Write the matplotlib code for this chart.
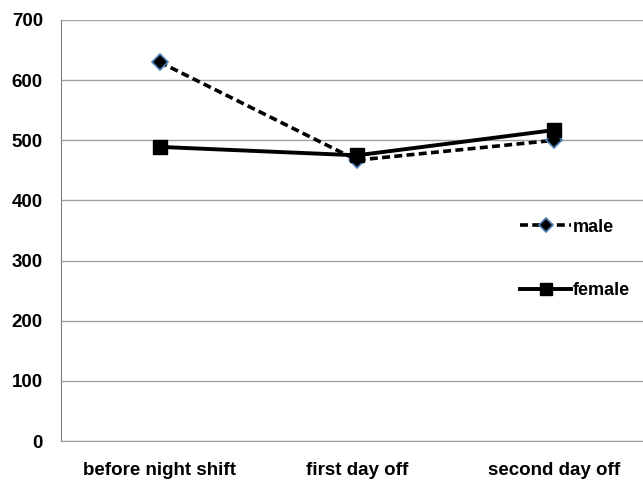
import matplotlib.pyplot as plt

# Datos
categorias = ["before night shift", "first day off", "second day off"]
male = [630, 467, 500]
female = [489, 475, 517]

plt.rcParams['font.family'] = ['Liberation Sans', 'DejaVu Sans']
plt.rcParams['font.weight'] = 'bold'

fig = plt.figure(figsize=(6.43, 4.83), dpi=100)
ax = fig.add_axes([61/643, 1 - 441/483, 592/643, 421/483])

x = range(len(categorias))
ax.plot(x, male, color='black', linestyle=(0, (2.2, 1.2)), linewidth=2.6,
        marker='D', markersize=8.5, markerfacecolor='black',
        markeredgecolor='#4f81bd', markeredgewidth=1.2, label='male', zorder=3)
ax.plot(x, female, color='black', linestyle='-', linewidth=2.8,
        marker='s', markersize=10.5, markerfacecolor='black',
        markeredgecolor='black', label='female', zorder=4)

ax.set_xlim(-0.5, 2.5)
ax.set_ylim(0, 700)
ax.set_yticks(range(0, 701, 100))
ax.set_xticks(list(x))
ax.set_xticklabels(categorias)
ax.grid(axis='y', color='#a0a0a0', linewidth=1)
ax.set_axisbelow(True)
ax.tick_params(axis='both', length=0, labelsize=13.5)
ax.tick_params(axis='y', pad=13)
ax.tick_params(axis='x', pad=15)
for lab in ax.get_xticklabels() + ax.get_yticklabels():
    lab.set_fontweight('bold')

for s in ['top', 'right']:
    ax.spines[s].set_visible(False)
ax.spines['left'].set_color('#808080')
ax.spines['bottom'].set_color('#a0a0a0')

handles, labels = ax.get_legend_handles_labels()
leg = ax.legend(handles, labels, loc='center left',
                bbox_to_anchor=(504/643, 1 - 259/483),
                bbox_transform=fig.transFigure, frameon=False,
                handlelength=2.8, handletextpad=0.1, labelspacing=2.6,
                markerscale=0.8, prop={'weight': 'bold', 'size': 13})

fig.savefig('out.png', dpi=100)
